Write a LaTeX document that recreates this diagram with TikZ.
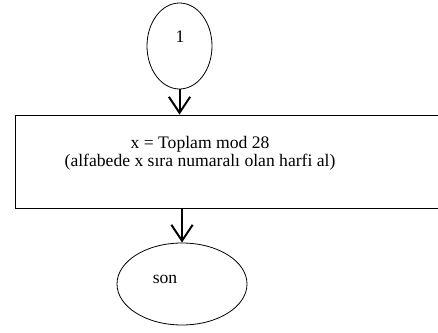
\documentclass[tikz,border=0pt]{standalone}
\usepackage{fontspec}
\setmainfont{Liberation Serif}
\usetikzlibrary{arrows.meta,shapes.geometric}
\begin{document}
\begin{tikzpicture}[x=0.75pt,y=-0.75pt,
  every node/.style={font=\fontsize{13.2}{13.5}\selectfont},
  oval/.style={draw,ellipse,line width=0.6pt,inner sep=0pt},
  procbox/.style={draw,rectangle,line width=0.6pt,inner sep=0pt,
    minimum width=330pt,minimum height=69.75pt},
  flow/.style={line width=1.5pt,-{Straight Barb[length=12pt,width=16pt,line width=1.5pt]}}]
\useasboundingbox (0,0) rectangle (438,332);
% start connector
\node[oval,minimum width=48.75pt,minimum height=64.5pt] (start) at (179.5,46) {};
\node (starttxt) at (180,37) {1};
% processing step
\node[procbox] (proc) at (235,161.5) {};
\node[align=center] (proctxt) at (200,153.5) {x = Toplam mod 28\\(alfabede x sıra numaralı olan harfi al)};
% end
\node[oval,minimum width=97.5pt,minimum height=61.5pt] (stop) at (182,284) {};
\node (stoptxt) at (165,279) {son};
% flow arrows
\draw[flow] (start.south) -- (start.south |- proc.north);
\draw[flow] (proc.south -| stop.north) -- (stop.north);
\end{tikzpicture}
\end{document}
